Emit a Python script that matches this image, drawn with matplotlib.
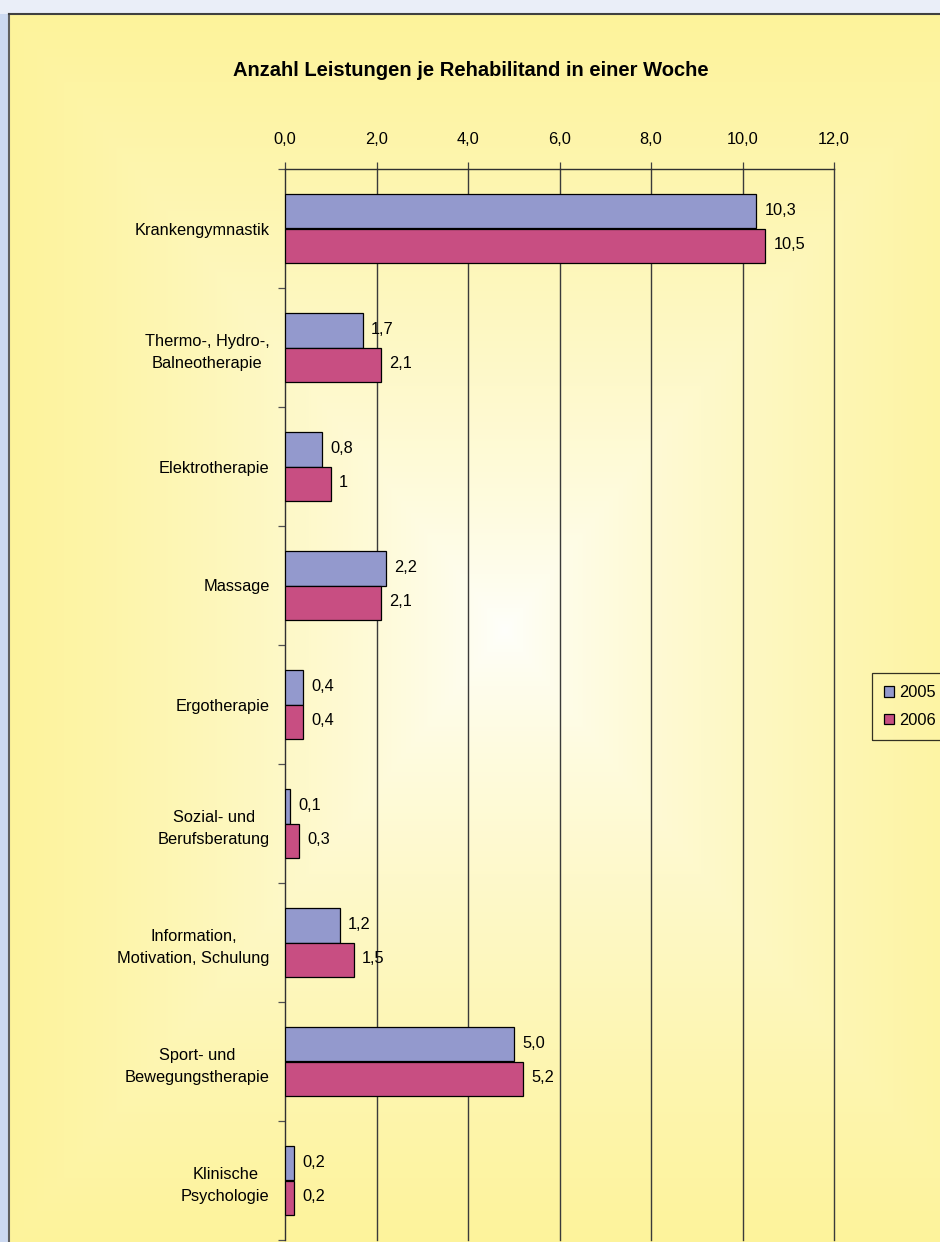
import numpy as np
import matplotlib
matplotlib.use("Agg")
import matplotlib.pyplot as plt
from matplotlib.patches import Patch, Rectangle

plt.rcParams['font.family'] = ['Liberation Sans', 'DejaVu Sans']

# Daten
kategorien = ['Krankengymnastik', 'Thermo-, Hydro-,\nBalneotherapie', 'Elektrotherapie',
              'Massage', 'Ergotherapie', 'Sozial- und\nBerufsberatung',
              'Information,\nMotivation, Schulung', 'Sport- und\nBewegungstherapie',
              'Klinische\nPsychologie']
werte_2005 = [10.3, 1.7, 0.8, 2.2, 0.4, 0.1, 1.2, 5.0, 0.2]
werte_2006 = [10.5, 2.1, 1.0, 2.1, 0.4, 0.3, 1.5, 5.2, 0.2]
labels_2005 = ['10,3', '1,7', '0,8', '2,2', '0,4', '0,1', '1,2', '5,0', '0,2']
labels_2006 = ['10,5', '2,1', '1', '2,1', '0,4', '0,3', '1,5', '5,2', '0,2']
x_ticks = [0, 2, 4, 6, 8, 10, 12]
x_ticklabels = ['0,0', '2,0', '4,0', '6,0', '8,0', '10,0', '12,0']
serien = ['2005', '2006']

farbe_2005 = '#9399CD'
farbe_2006 = '#C84E82'
gelb = np.array([253, 243, 155]) / 255
weiss = np.array([255, 255, 252]) / 255
fs = 11.8

W, H = 940, 1242
fig = plt.figure(figsize=(W / 100, H / 100), dpi=100)
fig.patch.set_facecolor('#EAEEF8')

# Hintergrund (Diagrammfläche mit Verlauf)
bg = fig.add_axes([0, 0, 1, 1], zorder=0)
bg.axis('off')
bg.add_patch(Rectangle((0, 14), 9, H, color='#CCD9F1', lw=0))
x0, y0, x1, y1 = 9, 14, 990, 1300
cx, cy = 505, 630
xs = np.linspace(x0, x1, 500)
ys = np.linspace(y0, y1, 600)
XX, YY = np.meshgrid(xs, ys)
t = np.maximum(np.abs(XX - cx) / (cx - x0), np.abs(YY - cy) / (cy - y0))
t = np.clip(t, 0, 1) ** 0.75
img = weiss[None, None, :] * (1 - t[..., None]) + gelb[None, None, :] * t[..., None]
bg.imshow(img, extent=[x0, x1, y1, y0], aspect='auto', interpolation='bilinear')
bg.plot([x0, x0], [y0, H], color='#606060', lw=1.5)
bg.plot([x0, W], [y0, y0], color='#404040', lw=1.5)
bg.set_xlim(0, W)
bg.set_ylim(H, 0)

# Hauptdiagramm
left, right, top, bottom = 285, 834, 169, 1240
ax = fig.add_axes([left / W, 1 - bottom / H, (right - left) / W, (bottom - top) / H], zorder=1)
ax.patch.set_alpha(0)

n = len(kategorien)
y = np.arange(n)
h = 0.286
ax.barh(y - h / 2, werte_2005, height=h, color=farbe_2005, edgecolor='black', lw=0.9,
        label=serien[0], zorder=3)
ax.barh(y + h / 2, werte_2006, height=h, color=farbe_2006, edgecolor='black', lw=0.9,
        label=serien[1], zorder=3)

for i in range(n):
    ax.annotate(labels_2005[i], (werte_2005[i], y[i] - h / 2), xytext=(6, 1),
                textcoords='offset points', va='center', ha='left', fontsize=fs, zorder=4)
    ax.annotate(labels_2006[i], (werte_2006[i], y[i] + h / 2), xytext=(6, 1),
                textcoords='offset points', va='center', ha='left', fontsize=fs, zorder=4)

ax.set_xlim(0, 12)
ax.set_ylim(n - 0.5, -0.5)
ax.xaxis.tick_top()
ax.set_xticks(x_ticks)
ax.set_xticklabels(x_ticklabels, fontsize=fs)
ax.tick_params(axis='x', direction='out', length=5, width=0.9, color='#404040', pad=11)
ax.set_yticks(y)
ax.set_yticklabels(kategorien, fontsize=fs, multialignment='center', linespacing=1.6)
ax.tick_params(axis='y', which='major', length=0, pad=11)
ax.set_yticks(np.arange(n + 1) - 0.5, minor=True)
ax.tick_params(axis='y', which='minor', direction='out', length=5, width=0.9, color='#505050')
for xv in x_ticks[1:]:
    ax.axvline(xv, color='#3A3A3A', lw=1.0, zorder=1, clip_on=False)
for s in ['right', 'bottom']:
    ax.spines[s].set_visible(False)
for s in ['left', 'top']:
    ax.spines[s].set_color('#303030')
    ax.spines[s].set_linewidth(1.0)

fig.text(471 / W, 1 - 71 / H, 'Anzahl Leistungen je Rehabilitand in einer Woche',
         ha='center', va='center', fontsize=14.5, fontweight='bold')

handles = [Patch(facecolor=farbe_2005, edgecolor='black', lw=0.9),
           Patch(facecolor=farbe_2006, edgecolor='black', lw=0.9)]
leg = fig.legend(handles, serien, loc='upper left', bbox_to_anchor=(872 / W, 1 - 673 / H),
                 fontsize=fs, frameon=True, fancybox=False, handlelength=0.6,
                 handleheight=0.6, handletextpad=0.3, borderpad=0.75, labelspacing=0.75,
                 borderaxespad=0)
leg.get_frame().set_facecolor('none')
leg.get_frame().set_edgecolor('black')
leg.get_frame().set_linewidth(0.9)

fig.savefig('out.png', dpi=100, facecolor=fig.get_facecolor())
